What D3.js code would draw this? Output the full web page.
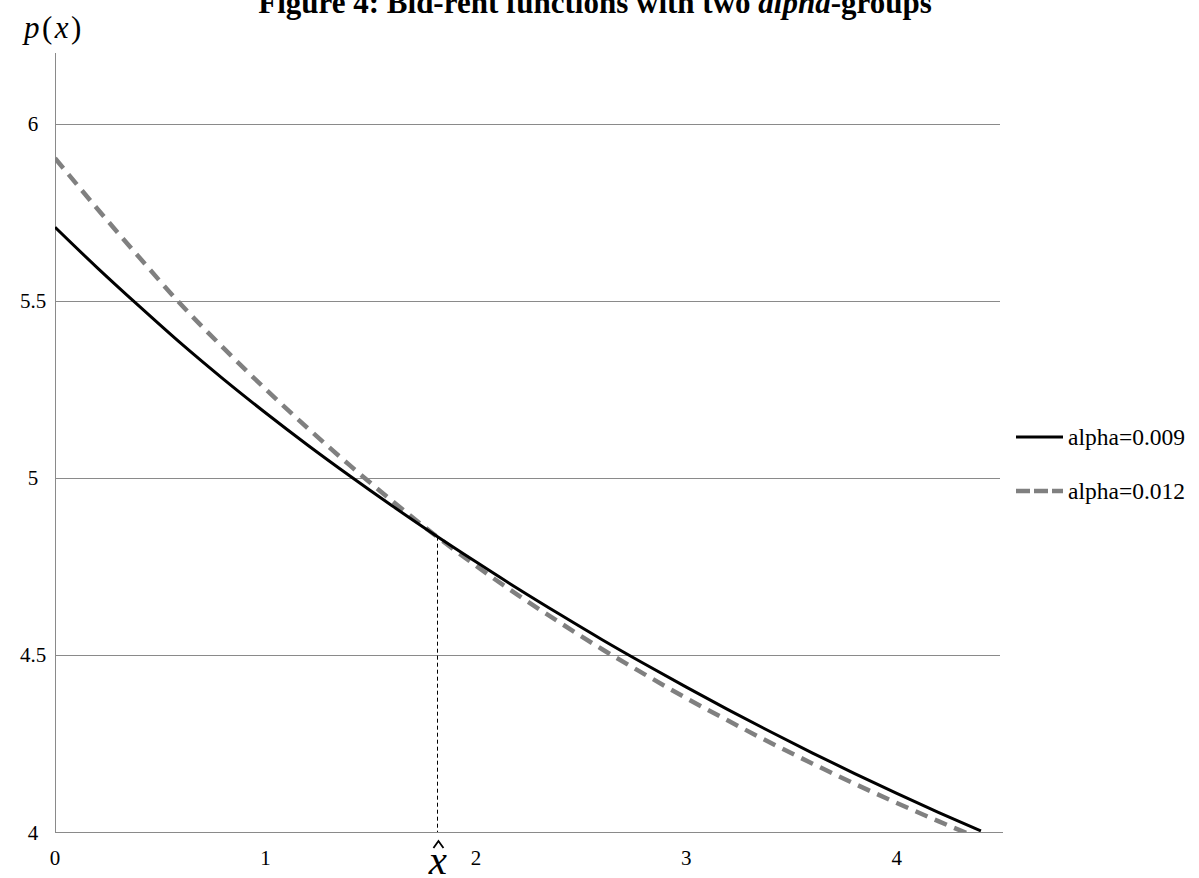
<!DOCTYPE html>
<html>
<head>
<meta charset="utf-8">
<script src="https://cdn.jsdelivr.net/npm/d3@7"></script>
<style>
  body { margin: 0; background: #fff; }
  svg { display: block; }
  text { font-family: "Liberation Serif", "Times New Roman", serif; fill: #000; }
</style>
</head>
<body>
<svg id="chart" width="1199" height="878"></svg>
<script>
// distance from centre
var xs = [0, 0.2, 0.4, 0.6, 0.8, 1.0, 1.2, 1.4, 1.6, 1.8, 2.0, 2.2, 2.4, 2.6, 2.8, 3.0, 3.2, 3.4, 3.6, 3.8, 4.0, 4.2, 4.4];

// bid-rent, alpha = 0.009 (solid black)
var rentLow = [5.708, 5.594, 5.485, 5.379, 5.279, 5.184, 5.093, 5.006, 4.922, 4.841, 4.763, 4.687, 4.614, 4.543, 4.475, 4.409, 4.345, 4.283, 4.223, 4.165, 4.109, 4.055, 4.003];

// bid-rent, alpha = 0.012 (dashed grey)
var rentHigh = [5.903, 5.761, 5.623, 5.489, 5.367, 5.251, 5.141, 5.036, 4.936, 4.841, 4.752, 4.669, 4.591, 4.516, 4.446, 4.378, 4.314, 4.252, 4.193, 4.136, 4.082, 4.030, 3.980];

var seriesNames = ["alpha=0.009", "alpha=0.012"];
var xTicks = [0, 1, 2, 3, 4];
var yTicks = [4, 4.5, 5, 5.5, 6];
var yTickLabels = ["4", "4.5", "5", "5.5", "6"];

// where the two curves cross
var xHat = 1.815, yHat = 4.834;

var svg = d3.select("#chart");

var x = d3.scaleLinear().domain([0, 4.5]).range([55, 1002]);
var y = d3.scaleLinear().domain([4, 6.2]).range([832, 53]);

var gridColor = "#8a8a8a";

// title (its top runs off the page in the original too)
var title = svg.append("text")
  .attr("x", 595)
  .attr("y", 13)
  .attr("text-anchor", "middle")
  .style("font-size", "31px")
  .style("font-weight", "bold");
title.append("tspan").text("Figure 4: Bid-rent functions with two ");
title.append("tspan").style("font-style", "italic").text("alpha");
title.append("tspan").text("-groups");

// y label p(x)
var ylab = svg.append("text")
  .attr("x", 24)
  .attr("y", 38)
  .style("font-size", "31px")
  .style("letter-spacing", "2.5px");
ylab.append("tspan").style("font-style", "italic").text("p");
ylab.append("tspan").text("(");
ylab.append("tspan").style("font-style", "italic").text("x");
ylab.append("tspan").text(")");

// horizontal gridlines
svg.append("g")
  .selectAll("line")
  .data(yTicks.filter(function(d) { return d > 4; }))
  .join("line")
    .attr("x1", x(0))
    .attr("x2", 1000)
    .attr("y1", function(d) { return Math.round(y(d)) + 0.5; })
    .attr("y2", function(d) { return Math.round(y(d)) + 0.5; })
    .attr("stroke", gridColor)
    .attr("stroke-width", 1);

// axes lines
svg.append("line")
  .attr("x1", Math.round(x(0)) + 0.5).attr("x2", Math.round(x(0)) + 0.5)
  .attr("y1", 53).attr("y2", y(4))
  .attr("stroke", gridColor);
svg.append("line")
  .attr("x1", x(0)).attr("x2", 1003)
  .attr("y1", Math.round(y(4)) + 0.5).attr("y2", Math.round(y(4)) + 0.5)
  .attr("stroke", gridColor);

// y tick labels
svg.append("g")
  .selectAll("text")
  .data(yTicks)
  .join("text")
    .attr("x", 33)
    .attr("y", function(d) { return y(d) + 7.5; })
    .attr("text-anchor", "middle")
    .style("font-size", "21px")
    .text(function(d, i) { return yTickLabels[i]; });

// x tick labels
svg.append("g")
  .selectAll("text")
  .data(xTicks)
  .join("text")
    .attr("x", function(d) { return x(d); })
    .attr("y", 865)
    .attr("text-anchor", "middle")
    .style("font-size", "21px")
    .text(function(d) { return d; });

// clip the curves to the plot area, the way the spreadsheet did
svg.append("defs").append("clipPath")
  .attr("id", "plotclip")
  .append("rect")
    .attr("x", x(0)).attr("y", 53)
    .attr("width", 1002 - x(0)).attr("height", y(4) - 53);

var line = d3.line()
  .x(function(d) { return x(d[0]); })
  .y(function(d) { return y(d[1]); })
  .curve(d3.curveMonotoneX);

var plot = svg.append("g").attr("clip-path", "url(#plotclip)");

plot.append("path")
  .datum(d3.zip(xs, rentHigh))
  .attr("d", line)
  .attr("fill", "none")
  .attr("stroke", "#808080")
  .attr("stroke-width", 4.5)
  .attr("stroke-dasharray", "13,8");

plot.append("path")
  .datum(d3.zip(xs, rentLow))
  .attr("d", line)
  .attr("fill", "none")
  .attr("stroke", "#000")
  .attr("stroke-width", 3);

// dashed drop line at the crossing point
svg.append("line")
  .attr("x1", Math.round(x(xHat)) + 0.5).attr("x2", Math.round(x(xHat)) + 0.5)
  .attr("y1", y(yHat)).attr("y2", y(4))
  .attr("stroke", "#000")
  .attr("stroke-width", 1)
  .attr("stroke-dasharray", "4,3");

// x-hat label: the x as text, the hat drawn as a small chevron above it
var hx = x(xHat) + 1;
svg.append("text")
  .attr("x", hx)
  .attr("y", 874)
  .attr("text-anchor", "middle")
  .style("font-size", "41px")
  .style("font-style", "italic")
  .text("x");
svg.append("path")
  .attr("d", "M" + (hx - 4.5) + ",848 L" + (hx + 0.5) + ",841 L" + (hx + 5.5) + ",848")
  .attr("fill", "none")
  .attr("stroke", "#000")
  .attr("stroke-width", 1.8)
  .attr("stroke-linejoin", "miter");

// legend
var legend = svg.append("g");
var legendY = [437, 491];
legend.selectAll("line")
  .data(seriesNames)
  .join("line")
    .attr("x1", 1016).attr("x2", 1063)
    .attr("y1", function(d, i) { return legendY[i]; })
    .attr("y2", function(d, i) { return legendY[i]; })
    .attr("stroke", function(d, i) { return i === 0 ? "#000" : "#808080"; })
    .attr("stroke-width", function(d, i) { return i === 0 ? 3 : 4.5; })
    .attr("stroke-dasharray", function(d, i) { return i === 0 ? null : "14,4"; });
legend.selectAll("text")
  .data(seriesNames)
  .join("text")
    .attr("x", 1068)
    .attr("y", function(d, i) { return legendY[i] + 8; })
    .style("font-size", "23.5px")
    .text(function(d) { return d; });
</script>
</body>
</html>
